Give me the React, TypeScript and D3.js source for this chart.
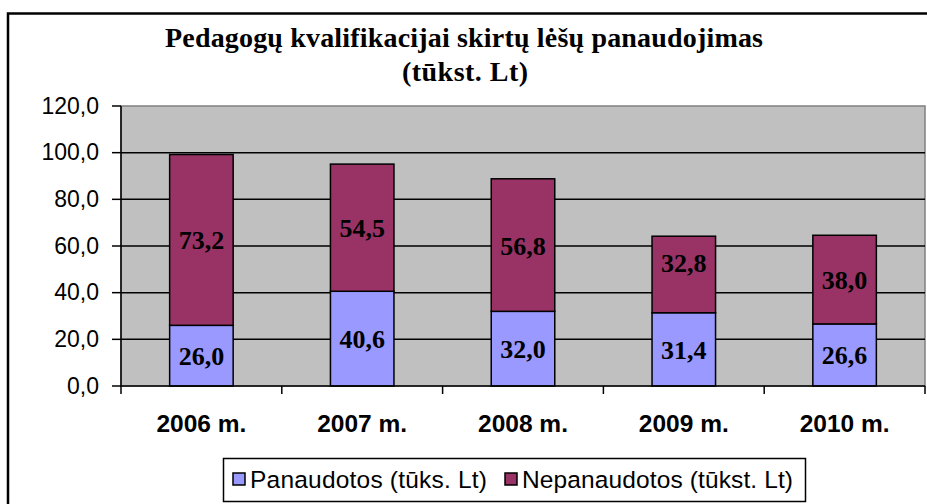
import React from "react";
import * as d3 from "d3";

const categories = ["2006 m.", "2007 m.", "2008 m.", "2009 m.", "2010 m."];
const usedValues = [26.0, 40.6, 32.0, 31.4, 26.6];
const unusedValues = [73.2, 54.5, 56.8, 32.8, 38.0];
const seriesNames = ["Panaudotos (tūks. Lt)", "Nepanaudotos (tūkst. Lt)"];
const yTicks = [0, 20, 40, 60, 80, 100, 120];
const titleLines = ["Pedagogų kvalifikacijai skirtų lėšų panaudojimas", "(tūkst. Lt)"];

const COLORS = ["#9999FF", "#993366"];
const W = 927;
const H = 504;

export default function App() {
  const x = d3.scaleBand<string>().domain(categories).range([121, 925]).paddingInner(0.605).paddingOuter(0.3025);
  const xb = d3.scaleBand<string>().domain(categories).range([121, 925]);
  const y = d3.scaleLinear().domain([0, 120]).range([386, 106]);

  const stackData = categories.map((c, i) => ({ c, used: usedValues[i], unused: unusedValues[i] }));
  const stacked = d3.stack<any>().keys(["used", "unused"])(stackData);
  const fmt = (v: number) => v.toFixed(1).replace(".", ",");
  const serif = "'Liberation Serif', 'Times New Roman', serif";
  const sans = "'Liberation Sans', Arial, sans-serif";

  return (
    <svg width={W} height={H} style={{ position: "absolute", left: 0, top: 0, background: "#fff" }}>
      <rect x={8} y={13.5} width={W + 20} height={H + 20} fill="#fff" stroke="#000" strokeWidth={2.5} />
      <text x={464} y={46.5} textAnchor="middle" fontFamily={serif} fontWeight="bold" fontSize={28} textLength={598} lengthAdjust="spacing">{titleLines[0]}</text>
      <text x={465} y={81} textAnchor="middle" fontFamily={serif} fontWeight="bold" fontSize={28} textLength={126} lengthAdjust="spacing">{titleLines[1]}</text>

      <rect x={121} y={106} width={804} height={280} fill="#C0C0C0" stroke="#808080" strokeWidth={1.5} />
      {yTicks.filter((t) => t > 0 && t < 120).map((t) => (
        <line key={t} x1={121} x2={925} y1={y(t)} y2={y(t)} stroke="#000" strokeWidth={1.5} />
      ))}

      {stacked.map((s, si) =>
        s.map((d, i) => (
          <rect key={si + "-" + i} x={x(categories[i])} y={y(d[1])} width={x.bandwidth()} height={y(d[0]) - y(d[1])}
            fill={COLORS[si]} stroke="#000" strokeWidth={1.5} />
        ))
      )}
      {stacked.map((s, si) =>
        s.map((d, i) => {
          const nudge = si === 1 && i === 3 ? -12 : 0;
          return (
            <text key={"l" + si + "-" + i} x={(x(categories[i]) as number) + x.bandwidth() / 2} y={(y(d[0]) + y(d[1])) / 2 + 9.5 + nudge}
              textAnchor="middle" fontFamily={serif} fontWeight="bold" fontSize={26}>{fmt(d[1] - d[0])}</text>
          );
        })
      )}

      {/* axes */}
      <line x1={121} x2={121} y1={106} y2={394} stroke="#000" strokeWidth={1.5} />
      <line x1={121} x2={925} y1={386} y2={386} stroke="#000" strokeWidth={1.5} />
      {yTicks.map((t) => (
        <g key={"yt" + t}>
          <line x1={112} x2={121} y1={y(t)} y2={y(t)} stroke="#000" strokeWidth={1.5} />
          <text x={99} y={y(t) + 7.5} textAnchor="end" fontFamily={sans} fontSize={23}>{fmt(t)}</text>
        </g>
      ))}
      {categories.map((c, i) => (
        <g key={"xt" + c}>
          <line x1={(xb(c) as number) + xb.bandwidth()} x2={(xb(c) as number) + xb.bandwidth()} y1={386} y2={394} stroke="#000" strokeWidth={1.5} />
          <text x={(xb(c) as number) + xb.bandwidth() / 2} y={431.5} textAnchor="middle" fontFamily={sans} fontWeight="bold" fontSize={24.5}>{c}</text>
        </g>
      ))}

      {/* legend */}
      <rect x={223.5} y={458.5} width={582} height={43} fill="#fff" stroke="#000" strokeWidth={1.5} />
      <rect x={233} y={473} width={12} height={12} fill={COLORS[0]} stroke="#000" strokeWidth={1.5} />
      <text x={250} y={487.5} fontFamily={sans} fontSize={24.5} textLength={237} lengthAdjust="spacing">{seriesNames[0]}</text>
      <rect x={505} y={473} width={12} height={12} fill={COLORS[1]} stroke="#000" strokeWidth={1.5} />
      <text x={522} y={487.5} fontFamily={sans} fontSize={24.5} textLength={271} lengthAdjust="spacing">{seriesNames[1]}</text>
    </svg>
  );
}
